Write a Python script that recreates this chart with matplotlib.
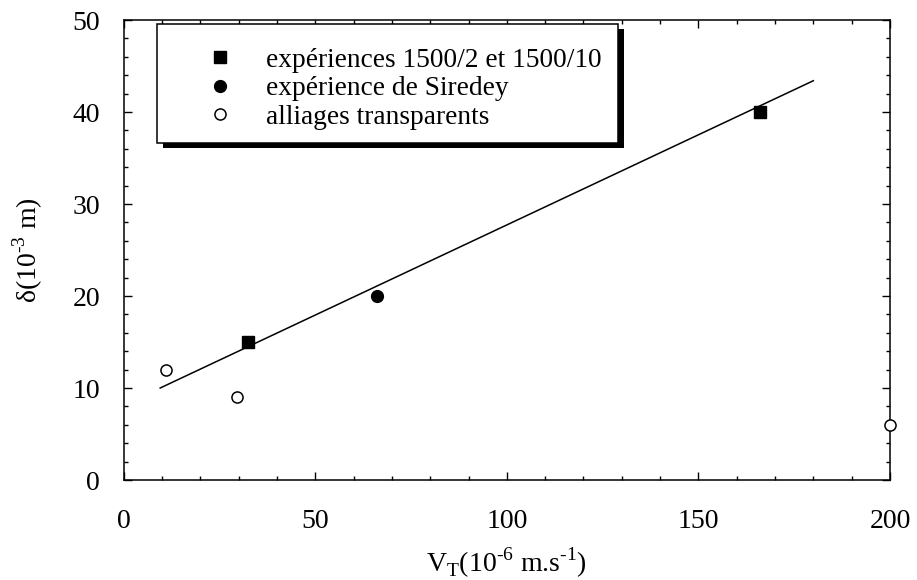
import matplotlib
matplotlib.use("Agg")
import matplotlib.pyplot as plt
from matplotlib.patches import Rectangle
from matplotlib.ticker import MultipleLocator

plt.rcParams['font.family'] = ['Liberation Serif', 'DejaVu Serif']
plt.rcParams['mathtext.fontset'] = 'custom'
plt.rcParams['mathtext.rm'] = 'Liberation Serif'

# data
sq_x = [32.5, 166]
sq_y = [15, 40]
fc_x = [66]
fc_y = [20]
oc_x = [11, 29.5, 200]
oc_y = [12, 9, 6]
fit_x = [9.5, 180]
fit_y = [10, 43.4]

labels = ["expériences 1500/2 et 1500/10",
          "expérience de Siredey",
          "alliages transparents"]

fig = plt.figure(figsize=(9.17, 5.80), dpi=100)
ax = fig.add_axes([0.135, 0.1724, 0.8355, 0.7931])

ax.plot(fit_x, fit_y, color='black', lw=1.1, zorder=2)
h1, = ax.plot(sq_x, sq_y, 's', color='black', ms=8.5, ls='none', zorder=3)
h2, = ax.plot(fc_x, fc_y, 'o', color='black', ms=8.5, ls='none', zorder=3)
h3, = ax.plot(oc_x, oc_y, 'o', mfc='white', mec='black', mew=1.1, ms=8,
              ls='none', zorder=4, clip_on=False)

ax.set_xlim(0, 200)
ax.set_ylim(0, 50)
ax.xaxis.set_major_locator(MultipleLocator(50))
ax.xaxis.set_minor_locator(MultipleLocator(10))
ax.yaxis.set_major_locator(MultipleLocator(10))
ax.yaxis.set_minor_locator(MultipleLocator(2))
ax.tick_params(which='both', direction='in', top=True, right=True, width=1)
ax.tick_params(which='major', length=6, labelsize=20)
ax.tick_params(axis='x', which='major', pad=21)
ax.tick_params(axis='y', which='major', pad=17)
ax.tick_params(which='minor', length=3)
for s in ax.spines.values():
    s.set_linewidth(1.1)

ax.set_xlabel(r'V$_\mathregular{T}$(10$^{\mathregular{\text{-}6}}$ m.s$^{\mathregular{\text{-}1}}$)',
              fontsize=20, labelpad=8)
ax.set_ylabel(r'$\mathregular{\delta}$(10$^{\mathregular{\text{-}3}}$ m)', fontsize=20, labelpad=20)

# legend box with a thick drop shadow, drawn as patches
box = (0.0431, 0.7326, 0.6018, 0.2587)  # x0, y0, w, h in axes fraction
dx = 6 / 766
dy = 5 / 460
ax.add_patch(Rectangle((box[0] + dx, box[1] - dy), box[2], box[3],
                       transform=ax.transAxes, facecolor='black',
                       edgecolor='none', zorder=9, clip_on=False))
ax.add_patch(Rectangle(box[:2], box[2], box[3], transform=ax.transAxes,
                       facecolor='white', edgecolor='black', lw=1.1,
                       zorder=9.5, clip_on=False))

leg = ax.legend([h1, h2, h3], labels, loc='upper left',
                bbox_to_anchor=(0.043, 0.976), borderaxespad=0,
                fontsize=19.7, frameon=False, handlelength=3.4,
                handletextpad=0.0, borderpad=0.6, labelspacing=0.13)
leg.set_zorder(10)

fig.savefig("out.png", dpi=100)
